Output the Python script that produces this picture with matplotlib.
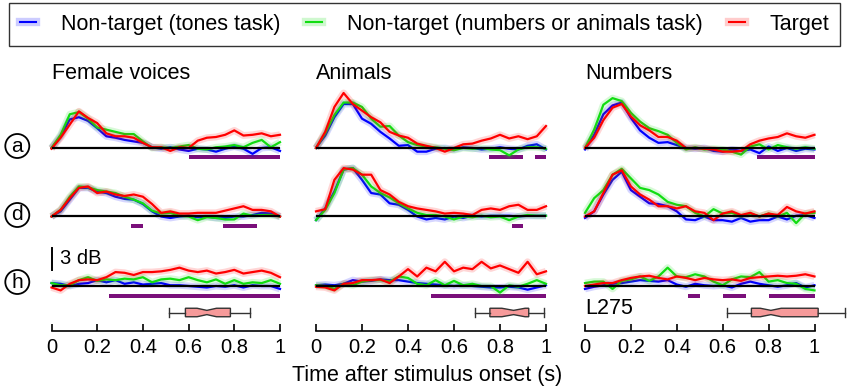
import numpy as np
import matplotlib.pyplot as plt
from matplotlib.lines import Line2D

plt.rcParams['font.family'] = ['Liberation Sans', 'DejaVu Sans']

# time after stimulus onset (s)
t = [0.0, 0.04, 0.08, 0.12, 0.16, 0.20, 0.24, 0.28, 0.32, 0.36, 0.40, 0.44, 0.48,
     0.52, 0.56, 0.60, 0.64, 0.68, 0.72, 0.76, 0.80, 0.84, 0.88, 0.92, 0.96, 1.0]

# dB, female voices
voices_a_blue = [0, 1.6, 3.9, 4.2, 3.7, 2.7, 1.6, 1.4, 1.1, 0.9, 0.7, 0.1, -0.1, 0.1, -0.2, -0.4, -0.1, -0.2, -0.5, -0.1, 0.2, -0.1, -0.8, 0, 0.1, -0.4]
voices_a_green = [0, 1.8, 4.6, 4.9, 4.0, 2.8, 2.5, 2.2, 1.9, 1.9, 0.9, 0, 0.1, 0, 0.2, 0.4, -0.1, -0.2, 0.1, 0.2, 0.4, 0.1, 0.7, 1.1, 0.1, 0.8]
voices_a_red = [-0.1, 1.4, 3.2, 5.0, 4.1, 3.4, 2.0, 1.6, 1.6, 1.4, 0.7, 0.1, 0.1, -0.4, 0.1, 0, 1.0, 1.4, 1.5, 1.8, 2.4, 1.7, 1.8, 2.0, 1.6, 1.8]
voices_d_blue = [0, 0.7, 2.3, 3.9, 3.9, 3.4, 3.2, 2.7, 2.4, 2.3, 1.7, 0.7, 0, -0.2, 0, 0.1, -0.1, 0, -0.2, -0.2, 0, 0, 0.2, 0.5, 0.4, 0]
voices_d_green = [0, 0.9, 2.7, 4.1, 4.0, 3.6, 3.4, 3.2, 2.7, 2.3, 1.8, 0.8, 0.4, 0.5, 0.1, 0, -0.5, -0.1, -0.2, -0.4, -0.4, 0.4, 0.1, 0.2, 0.2, 0]
voices_d_red = [0, 0.9, 2.5, 3.9, 4.1, 3.2, 3.4, 3.0, 2.8, 3.0, 2.7, 1.7, 0.5, 0.7, 0.4, 0.4, 0.5, 0.5, 0.5, 0.8, 1.1, 1.4, 0.9, 0.9, 0.7, 0]
voices_h_blue = [0.4, 0.3, 0, 0.3, 0.4, 0.8, 0.5, 0.8, 0.3, 0.5, 0.2, 0.3, 0.4, 0.1, 0.1, 0, -0.1, -0.2, 0, -0.1, 0.1, -0.2, 0.1, 0, 0, -0.4]
voices_h_green = [0.4, 0.1, 0.1, 0.8, 1.2, 0.7, 0.9, 0.8, 1.0, 0.9, 1.2, 0.5, 0.9, 1.0, 0.8, 1.2, 0.8, 0.5, 0.9, 0.3, 0.8, 0.3, 0.5, 0.4, 0.8, 0.3]
voices_h_red = [-0.2, -0.6, 0.3, 0.8, 0.9, 0.8, 1.2, 1.9, 1.8, 1.5, 1.9, 1.9, 2.0, 2.2, 2.5, 2.1, 1.9, 2.1, 1.7, 1.9, 2.2, 1.7, 1.9, 2.1, 1.8, 1.2]

# dB, animals
animals_a_blue = [0, 1.7, 4.2, 6.0, 6.0, 4.0, 3.3, 2.2, 1.3, 0.3, 0.4, -0.5, -0.5, -0.1, 0, -0.2, 0.1, 0, -0.2, -0.1, 0.1, -0.1, -0.2, 0.3, 0.5, -0.2]
animals_a_green = [0, 2.0, 4.5, 6.2, 6.2, 5.6, 4.0, 2.9, 3.0, 1.7, 0.8, 0.4, 0.2, 0.1, -0.1, -0.3, 0, -0.1, 0, -0.2, -0.3, -1.0, -0.2, 0.1, 0.1, -0.1]
animals_a_red = [0, 2.2, 5.6, 7.5, 6.0, 5.1, 4.2, 3.5, 2.2, 1.7, 1.4, 0.6, 0.3, 0, -0.5, 0, 0.5, 0.6, 1.0, 1.3, 1.8, 1.3, 1.6, 1.2, 1.6, 3.0]
animals_d_blue = [-0.5, 1.1, 3.4, 6.4, 6.6, 5.0, 3.2, 3.0, 1.8, 1.6, 0.9, 0, -0.4, -0.2, -0.4, 0, -0.2, 0.1, 0, 0.1, 0.1, 0.1, 0, 0.1, 0.1, 0.1]
animals_d_green = [-0.5, 0.9, 3.2, 6.4, 6.6, 5.7, 4.1, 3.2, 2.6, 1.8, 1.1, 0.5, 0.2, 0.2, 0, -0.4, 0, -0.1, 0.1, -0.1, 0, -0.5, 0, 0.2, 0.1, 0.1]
animals_d_red = [0.7, 1.0, 5.0, 6.6, 6.4, 5.7, 5.7, 3.6, 3.0, 2.0, 1.4, 1.1, 0.9, 0.7, 0.4, 0.5, 0.4, 0.2, 0.9, 1.1, 0.9, 1.4, 1.6, 0.9, 0.9, 1.4]
animals_h_blue = [0.1, 0.2, 0.1, 0.3, 0.8, 0.6, 0.7, 0.9, 0.8, 0.8, 0.6, 0.4, 0.3, 0.2, 0.1, 0, 0.1, 0, -0.1, -0.2, -0.2, -0.1, -0.2, -0.5, -0.2, 0.1]
animals_h_green = [0.1, 0, -0.4, 0.3, 0.1, 0.6, 0.8, 0.8, 0.6, 1.3, 1.1, 0.3, 0.1, 0.8, 0.1, 0.7, 0.1, 0.3, 0, 0, -0.9, 0.1, -0.1, 0.3, 0.8, 0.3]
animals_h_red = [-0.1, -0.2, -0.6, 0.3, 0.4, 0.8, 0.8, 0.9, 0.4, 1.3, 2.3, 1.3, 2.5, 2.0, 3.3, 2.0, 2.5, 2.3, 3.3, 2.4, 2.8, 2.3, 1.8, 3.3, 1.6, 2.0]

# dB, numbers
numbers_a_blue = [-0.2, 1.8, 4.6, 5.8, 6.2, 4.1, 2.4, 1.4, 0.7, 0.8, 0.4, 0, -0.1, 0, -0.4, -0.5, -0.2, -0.4, -0.2, -0.7, 0.2, -0.4, 0, -0.4, -0.1, -0.2]
numbers_a_green = [0, 2.5, 5.9, 6.8, 6.4, 4.8, 3.6, 2.7, 2.3, 1.8, 0.7, -0.2, 0.1, -0.2, -0.1, -0.2, -0.5, -0.9, 0.2, 0.5, -0.2, 0.4, 0.1, -0.1, 0.1, -0.1]
numbers_a_red = [0, 1.4, 3.8, 5.5, 6.0, 4.3, 3.1, 2.4, 1.5, 1.5, 1.0, 0, 0, -0.1, -0.2, -0.5, -0.5, -0.4, 0.5, 1.0, 1.3, 1.5, 2.0, 1.6, 1.4, 1.8]
numbers_d_blue = [-0.2, 0.7, 3.0, 5.0, 6.1, 3.6, 2.7, 1.8, 1.7, 1.4, 0.7, -0.4, -0.5, 0, -0.5, -0.5, -0.7, -0.2, -0.7, -0.5, -0.5, 0, -0.4, 0.1, 0.2, -0.2]
numbers_d_green = [0.5, 2.5, 3.6, 5.7, 6.5, 5.2, 3.9, 3.6, 3.0, 2.0, 1.6, 1.4, 0.5, 0, 1.0, 0.4, 0.5, 0, 0.4, 0, 0.4, 0, 0.5, -0.9, 0.4, 0.5]
numbers_d_red = [0, 0.7, 3.2, 5.7, 6.3, 4.1, 3.0, 2.3, 1.4, 1.4, 1.1, 1.4, 0.7, 0.5, -0.5, 0.4, 0.7, 0.2, 0.5, 0, 0.4, 0.2, 1.3, 0.7, 0.4, 0.7]
numbers_h_blue = [-0.4, -0.1, 0.1, 0.3, 0.4, 0.6, 0.8, 0.7, 0.6, 0.8, 0.2, -0.1, 0.3, 0.1, 0, 0.1, -0.2, 0.3, 0.6, 0.3, 0.1, -0.1, 0.1, 0.4, -0.2, 0.1]
numbers_h_green = [0.4, 0.6, 0.6, -0.4, 0.7, 0.9, 1.3, 0.7, 1.3, 2.5, 1.3, 1.2, 1.6, 1.3, 0.6, 0.1, 0.9, 1.3, 1.2, 1.9, 0.6, 0.8, 0.4, 0.3, -0.4, -0.6]
numbers_h_red = [0, 0.2, 0.4, 0.4, 0.8, 1.1, 1.3, 1.4, 1.1, 0.9, 1.3, 1.1, 0.8, 1.1, 0.9, 0.8, 0.9, 0.7, 1.1, 1.2, 1.3, 1.4, 1.3, 1.4, 1.6, 1.3]

# significant intervals (s)
voices_sig_a = [(0.60, 1.0)]
voices_sig_d = [(0.35, 0.40), (0.75, 0.90)]
voices_sig_h = [(0.25, 1.0)]
animals_sig_a = [(0.75, 0.90), (0.95, 1.0)]
animals_sig_d = [(0.85, 0.90)]
animals_sig_h = [(0.50, 1.0)]
numbers_sig_a = [(0.75, 1.0)]
numbers_sig_d = []
numbers_sig_h = [(0.45, 0.50), (0.60, 0.70), (0.80, 1.0)]

# latency boxplots (s): voices, animals, numbers
box_whislo = [0.515, 0.69, 0.62]
box_q1 = [0.586, 0.756, 0.725]
box_med = [0.68, 0.859, 0.81]
box_q3 = [0.783, 0.925, 1.016]
box_whishi = [0.868, 0.99, 1.135]
box_cilo = [0.637, 0.808, 0.764]
box_cihi = [0.722, 0.909, 0.855]

titles = ['Female voices', 'Animals', 'Numbers']
row_labels = ['a', 'd', 'h']
series_labels = ['Non-target (tones task)', 'Non-target (numbers or animals task)', 'Target']
colors = ['#0000ff', '#11dd11', '#ff0000']
purple = '#7a0f7a'
tick_vals = [0, 0.2, 0.4, 0.6, 0.8, 1]
tick_text = ['0', '0.2', '0.4', '0.6', '0.8', '1']

curves = [
    [[voices_a_blue, voices_a_green, voices_a_red],
     [voices_d_blue, voices_d_green, voices_d_red],
     [voices_h_blue, voices_h_green, voices_h_red]],
    [[animals_a_blue, animals_a_green, animals_a_red],
     [animals_d_blue, animals_d_green, animals_d_red],
     [animals_h_blue, animals_h_green, animals_h_red]],
    [[numbers_a_blue, numbers_a_green, numbers_a_red],
     [numbers_d_blue, numbers_d_green, numbers_d_red],
     [numbers_h_blue, numbers_h_green, numbers_h_red]],
]
sigs = [[voices_sig_a, voices_sig_d, voices_sig_h],
        [animals_sig_a, animals_sig_d, animals_sig_h],
        [numbers_sig_a, numbers_sig_d, numbers_sig_h]]

W, H = 851, 392
fig = plt.figure(figsize=(W / 100, H / 100), dpi=100)

k = 22 / 3  # pixels per dB


def dy(px):
    # pixel row -> dB, zero on the first baseline
    return (148 - px) / k


row_off = [dy(148), dy(216.5), dy(286)]
axis_y = dy(331)
box_y = dy(312.5)
sig_gap = 9.5 / k
sig_h = 4 / k
box_h = 8.5 / k

cols_px = [(51.5, 280), (316, 546), (585, 814.5)]
xlo, xhi = -0.03, 1.16
top_px, bot_px = 62, 345

for c, (x0, x1) in enumerate(cols_px):
    w = x1 - x0
    ax = fig.add_axes([(x0 + xlo * w) / W, 1 - bot_px / H,
                       (xhi - xlo) * w / W, (bot_px - top_px) / H])
    ax.set_xlim(xlo, xhi)
    ax.set_ylim(dy(bot_px), dy(top_px))
    ax.patch.set_visible(False)
    for s in ['left', 'right', 'top']:
        ax.spines[s].set_visible(False)
    ax.spines['bottom'].set_position(('data', axis_y))
    ax.spines['bottom'].set_bounds(0, 1)
    ax.spines['bottom'].set_linewidth(1.2)
    ax.set_yticks([])
    ax.set_xticks(tick_vals)
    ax.set_xticklabels(tick_text)
    ax.tick_params(axis='x', direction='in', length=5, width=1.2, labelsize=14.5, pad=5)

    for r in range(3):
        off = row_off[r]
        for i in range(3):
            y = np.array(curves[c][r][i]) + off
            ax.plot(t, y, color=colors[i], lw=5, alpha=0.16, solid_capstyle='butt', zorder=2 + i)
            ax.plot(t, y, color=colors[i], lw=1.6, zorder=3 + i)
        ax.hlines(off, 0, 1, color='k', lw=1.6, zorder=6)
        if sigs[c][r]:
            ax.broken_barh([(a, b - a) for a, b in sigs[c][r]],
                           (off - sig_gap - sig_h / 2, sig_h), facecolors=purple)

    stats = [dict(whislo=box_whislo[c], q1=box_q1[c], med=box_med[c], q3=box_q3[c],
                  whishi=box_whishi[c], cilo=box_cilo[c], cihi=box_cihi[c], fliers=[])]
    ax.bxp(stats, positions=[box_y], widths=box_h, capwidths=box_h,
           orientation='horizontal', shownotches=True, patch_artist=True,
           showfliers=False, manage_ticks=False,
           boxprops=dict(facecolor='#f69a9a', edgecolor='#333333', linewidth=1),
           whiskerprops=dict(color='#333333', linewidth=1),
           capprops=dict(color='#333333', linewidth=1),
           medianprops=dict(linewidth=0))

    ax.text(0, dy(79), titles[c], fontsize=15.5, ha='left', va='baseline')

    if c == 0:
        ax.plot([0, 0], [row_off[2] + 2.2, row_off[2] + 5.2], color='k', lw=1.4)
        ax.text(0.037, row_off[2] + 3.7, '3 dB', fontsize=14.5, ha='left', va='center')
    if c == 2:
        ax.text(0.0, dy(309), 'L275', fontsize=15.5, ha='left', va='center')

for lab, py in zip(row_labels, [146, 215, 282]):
    fig.text(17.3 / W, 1 - py / H, lab, fontsize=15, ha='center', va='center',
             bbox=dict(boxstyle='circle,pad=0.12', fc='white', ec='k', lw=1.3))

fig.text(427 / W, 1 - 376 / H, 'Time after stimulus onset (s)', fontsize=15.5,
         ha='center', va='center')

handles = [(Line2D([], [], color=col, lw=6, alpha=0.2), Line2D([], [], color=col, lw=1.5))
           for col in colors]
leg = fig.legend(handles, series_labels, loc='upper center',
                 bbox_to_anchor=(424.5 / W, 1 - 3 / H), ncol=3, frameon=True,
                 fancybox=False, edgecolor='k', fontsize=15.5, handlelength=0.75,
                 handletextpad=1.15, columnspacing=1.2, borderpad=0.5, borderaxespad=0)
leg.get_frame().set_linewidth(1.0)

fig.savefig('out.png', dpi=100)
